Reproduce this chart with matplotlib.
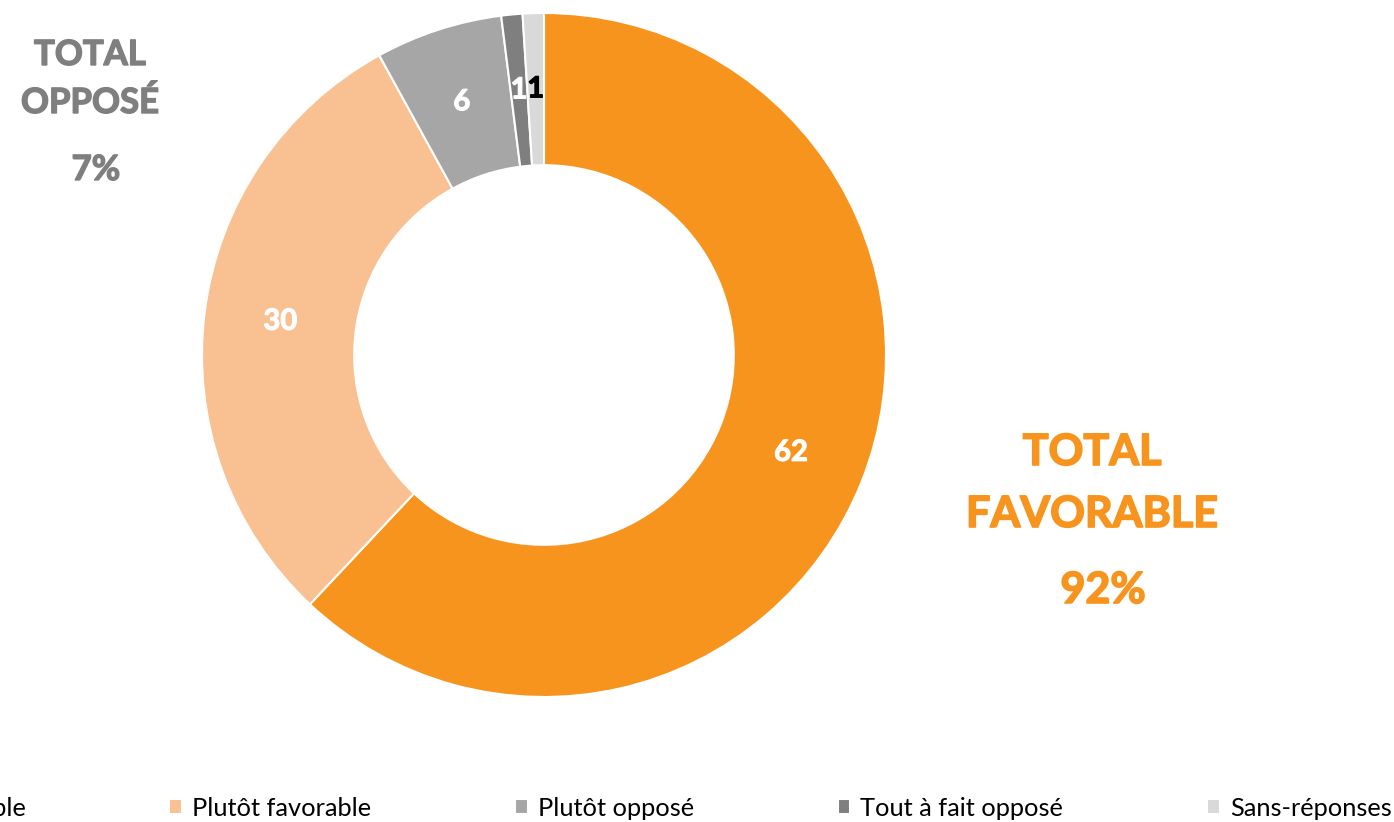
import matplotlib.pyplot as plt
import matplotlib.patheffects as pe

plt.rcParams['font.family'] = ['Lato', 'DejaVu Sans']

labels = ["Tout à fait favorable", "Plutôt favorable", "Plutôt opposé",
          "Tout à fait opposé", "Sans-réponses"]
values = [62, 30, 6, 1, 1]
colors = ["#F7941D", "#F9C192", "#A6A6A6", "#7F7F7F", "#D9D9D9"]
label_colors = ["white", "white", "white", "white", "black"]

fig = plt.figure(figsize=(13.94, 8.22), dpi=100)
ax = fig.add_axes([202 / 1394, 125 / 822, 684 / 1394, 684 / 822])

wedges, texts = ax.pie(values, colors=colors, startangle=90, counterclock=False,
                       radius=1, wedgeprops=dict(width=0.445, edgecolor="white", linewidth=1.5),
                       labels=[str(v) for v in values], labeldistance=0.777)
for t, c in zip(texts, label_colors):
    t.set_color(c)
    t.set_fontsize(21)
    t.set_fontweight("bold")
    t.set_ha("center")
    t.set_va("center")
    t.set_path_effects([pe.withStroke(linewidth=0.8, foreground=c)])
ax.set_xlim(-1, 1)
ax.set_ylim(-1, 1)
ax.set_aspect("equal")
ax.axis("off")

# totals
for txt, y, x in [("TOTAL", 452, 1092), ("FAVORABLE", 514, 1092), ("92%", 590, 1103)]:
    fig.text(x / 1394, 1 - y / 822, txt, color="#F7941D", fontsize=31, fontweight="bold",
             ha="center", va="center",
             path_effects=[pe.withStroke(linewidth=1.2, foreground="#F7941D")])
for txt, y, x in [("TOTAL", 55, 90), ("OPPOSÉ", 103, 90), ("7%", 170, 96)]:
    fig.text(x / 1394, 1 - y / 822, txt, color="#7F7F7F", fontsize=25, fontweight="bold",
             ha="center", va="center",
             path_effects=[pe.withStroke(linewidth=1.0, foreground="#7F7F7F")])

fig.legend(wedges, labels, loc="center left", bbox_to_anchor=(-0.160, 1 - 808 / 822),
           ncol=5, frameon=False, fontsize=18.3, handlelength=0.5, handleheight=0.5,
           handletextpad=0.4, columnspacing=5.65, borderpad=0, borderaxespad=0)

plt.savefig("out.png", dpi=100)
